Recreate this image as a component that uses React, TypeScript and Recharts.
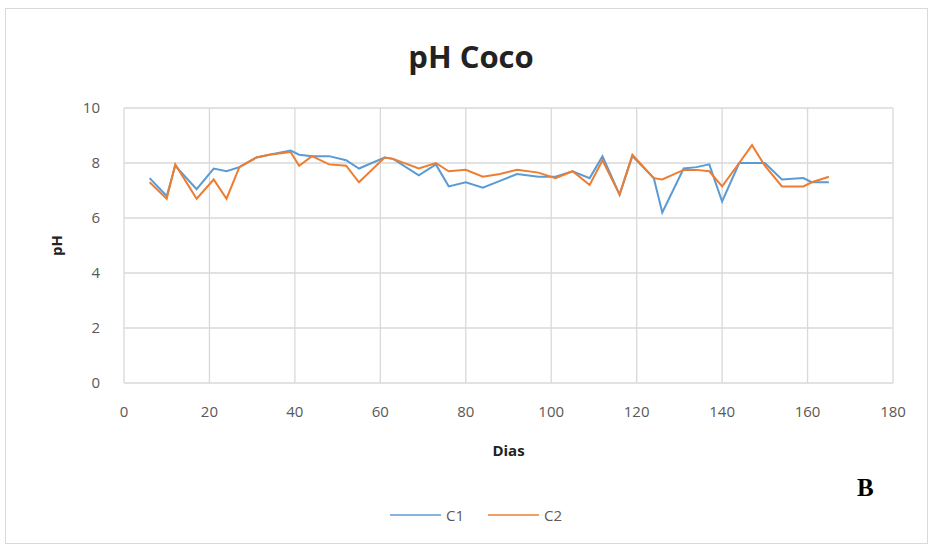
import { LineChart, Line, XAxis, YAxis, CartesianGrid, Legend, Label } from "recharts";

// días de muestreo
const DIAS = [
  6, 10, 12, 17, 21, 24, 27, 31, 34, 39, 41, 44, 48, 52, 55, 61, 63, 69, 73, 76, 80, 84, 88,
  92, 97, 101, 105, 109, 112, 116, 119, 124, 126, 131, 134, 137, 140, 144, 147, 150, 154,
  159, 161, 165,
];

const C1 = [
  7.45, 6.8, 7.9, 7.05, 7.8, 7.7, 7.85, 8.2, 8.3, 8.45, 8.3, 8.25, 8.25, 8.1, 7.8, 8.2, 8.15,
  7.55, 7.95, 7.15, 7.3, 7.1, 7.35, 7.6, 7.5, 7.5, 7.7, 7.45, 8.25, 6.85, 8.25, 7.45, 6.2,
  7.8, 7.85, 7.95, 6.6, 8.0, 8.0, 8.0, 7.4, 7.45, 7.3, 7.3,
];

const C2 = [
  7.3, 6.7, 7.95, 6.7, 7.4, 6.7, 7.85, 8.2, 8.3, 8.4, 7.9, 8.25, 7.95, 7.9, 7.3, 8.2, 8.15,
  7.8, 8.0, 7.7, 7.75, 7.5, 7.6, 7.75, 7.65, 7.45, 7.7, 7.2, 8.1, 6.85, 8.3, 7.45, 7.4,
  7.75, 7.75, 7.7, 7.15, 8.0, 8.65, 7.9, 7.15, 7.15, 7.3, 7.5,
];

const X_TICKS = [0, 20, 40, 60, 80, 100, 120, 140, 160, 180];
const Y_TICKS = [0, 2, 4, 6, 8, 10];

const data = DIAS.map((d, i) => ({ dia: d, C1: C1[i], C2: C2[i] }));

const FONT = "'Open Sans', 'Liberation Sans', sans-serif";
const GRID = "#d9d9d9";
const TICK = { fill: "#595959", fontSize: 15, fontFamily: FONT };

// leyenda con líneas finas como en Excel
function LegendLines({ payload }: any) {
  return (
    <div style={{ display: "flex", alignItems: "center", fontSize: 15, fontFamily: FONT }}>
      {(payload || []).map((p: any) => (
        <div key={p.value} style={{ display: "flex", alignItems: "center" }}>
          <svg width={51} height={10}>
            <line x1={0} y1={5} x2={51} y2={5} stroke={p.color} strokeWidth={1.5} />
          </svg>
          <span style={{ color: "#595959", marginLeft: 5, width: 42 }}>{p.value}</span>
        </div>
      ))}
    </div>
  );
}

export default function App() {
  return (
    <div
      style={{
        position: "absolute",
        left: 0,
        top: 0,
        width: 930,
        height: 545,
        background: "#fff",
        fontFamily: FONT,
      }}
    >
      <div
        style={{
          position: "absolute",
          left: 5,
          top: 8,
          width: 921,
          height: 534,
          border: `1px solid ${GRID}`,
        }}
      />
      <div
        style={{
          position: "absolute",
          left: 0,
          width: 930,
          top: 36,
          textAlign: "center",
          paddingLeft: 6,
          fontSize: 31,
          fontWeight: 700,
          color: "#222",
          lineHeight: "40px",
        }}
      >
        pH Coco
      </div>
      <div
        style={{
          position: "absolute",
          left: 857,
          top: 474,
          fontFamily: "'Liberation Serif', 'DejaVu Serif', serif",
          fontSize: 25,
          fontWeight: 700,
          color: "#000",
        }}
      >
        B
      </div>
      <div style={{ position: "absolute", left: 0, top: 0 }}>
        <LineChart
          width={930}
          height={545}
          data={data}
          margin={{ top: 108, right: 37, bottom: 82, left: 44 }}
        >
          <CartesianGrid stroke={GRID} strokeWidth={1.3} />
          <XAxis
            dataKey="dia"
            type="number"
            domain={[0, 180]}
            ticks={X_TICKS}
            tick={TICK}
            tickSize={0}
            tickMargin={23}
            axisLine={false}
            height={80}
          >
            <Label
              value="Dias"
              position="insideBottom"
              offset={7}
              style={{ fill: "#222", fontSize: 15, fontWeight: 700, fontFamily: FONT }}
            />
          </XAxis>
          <YAxis
            type="number"
            domain={[0, 10]}
            ticks={Y_TICKS}
            tick={TICK}
            tickSize={0}
            tickMargin={24}
            axisLine={false}
            width={80}
          >
            <Label
              value="pH"
              angle={-90}
              position="insideLeft"
              offset={13}
              style={{
                fill: "#222",
                fontSize: 15,
                fontWeight: 700,
                fontFamily: FONT,
                textAnchor: "middle",
              }}
            />
          </YAxis>
          <Legend
            layout="horizontal"
            verticalAlign="middle"
            align="center"
            content={<LegendLines />}
            wrapperStyle={{ left: 390, top: 505, width: 240 }}
          />
          <Line
            type="linear"
            dataKey="C1"
            stroke="#5b9bd5"
            strokeWidth={2}
            dot={false}
            isAnimationActive={false}
          />
          <Line
            type="linear"
            dataKey="C2"
            stroke="#ed7d31"
            strokeWidth={2}
            dot={false}
            isAnimationActive={false}
          />
        </LineChart>
      </div>
    </div>
  );
}
